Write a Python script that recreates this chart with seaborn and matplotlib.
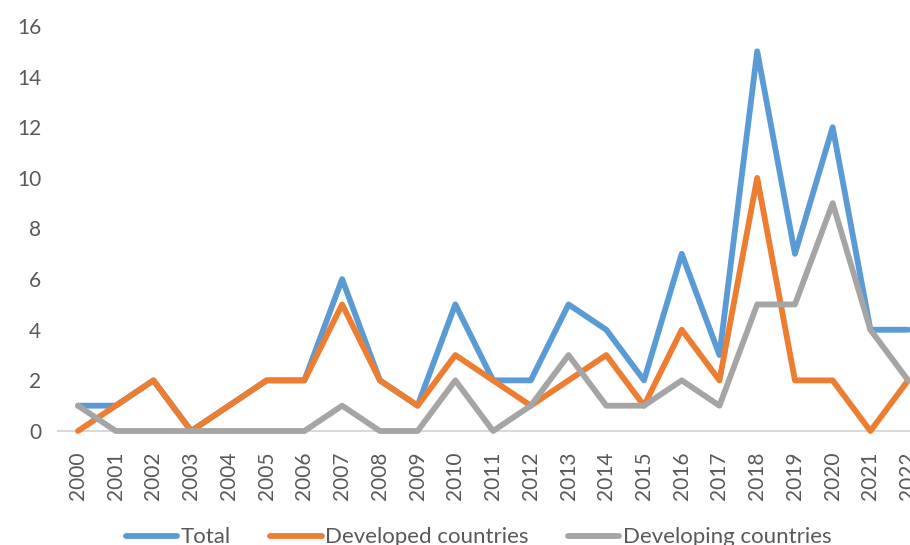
import matplotlib
matplotlib.use("Agg")
import matplotlib.pyplot as plt
import pandas as pd
import seaborn as sns

# Data
years = [str(y) for y in range(2000, 2023)]
total = [1, 1, 2, 0, 1, 2, 2, 6, 2, 1, 5, 2, 2, 5, 4, 2, 7, 3, 15, 7, 12, 4, 4]
developed = [0, 1, 2, 0, 1, 2, 2, 5, 2, 1, 3, 2, 1, 2, 3, 1, 4, 2, 10, 2, 2, 0, 2]
developing = [1, 0, 0, 0, 0, 0, 0, 1, 0, 0, 2, 0, 1, 3, 1, 1, 2, 1, 5, 5, 9, 4, 2]

series_names = ["Total", "Developed countries", "Developing countries"]
colors = ["#5B9BD5", "#ED7D31", "#A5A5A5"]

# long-form frame for seaborn
df = pd.DataFrame({
    "year": years * 3,
    "value": total + developed + developing,
    "series": sum([[n] * len(years) for n in series_names], []),
})
df["pos"] = list(range(len(years))) * 3

sns.set_style("white")
plt.rcParams["font.family"] = ["Lato", "DejaVu Sans"]

fig = plt.figure(figsize=(9.1, 5.45), dpi=100)
# axes run a bit past the right edge, like the cropped original
ax = fig.add_axes([58 / 910, 1 - 431 / 545, (927 - 58) / 910, (431 - 26) / 545])

sns.lineplot(data=df, x="pos", y="value", hue="series", hue_order=series_names,
             palette=colors, linewidth=4.2, ax=ax, legend=False,
             solid_joinstyle="round", solid_capstyle="round", clip_on=False)

ax.set_xlim(-0.53, 22.5)
ax.set_ylim(0, 16)
ax.set_yticks(range(0, 17, 2))
ax.set_xticks(range(len(years)))
ax.set_xticklabels(years, rotation=90)
ax.tick_params(axis="both", length=0, labelsize=15, labelcolor="#595959")
ax.tick_params(axis="x", pad=15)
ax.tick_params(axis="y", pad=12)
ax.set_xlabel("")
ax.set_ylabel("")

for side in ["top", "right", "left"]:
    ax.spines[side].set_visible(False)
ax.spines["bottom"].set_color("#D9D9D9")
ax.spines["bottom"].set_linewidth(1.5)
ax.spines["bottom"].set_zorder(0)

handles = [plt.Line2D([0], [0], color=c, linewidth=4.2, solid_capstyle="round")
           for c in colors]
fig.legend(handles, series_names, loc="center", bbox_to_anchor=(0.526, 0.014),
           ncol=3, frameon=False, fontsize=16, labelcolor="#595959",
           handlelength=2.3, handletextpad=0.15, columnspacing=1.8)

fig.savefig("out.png", dpi=100)
